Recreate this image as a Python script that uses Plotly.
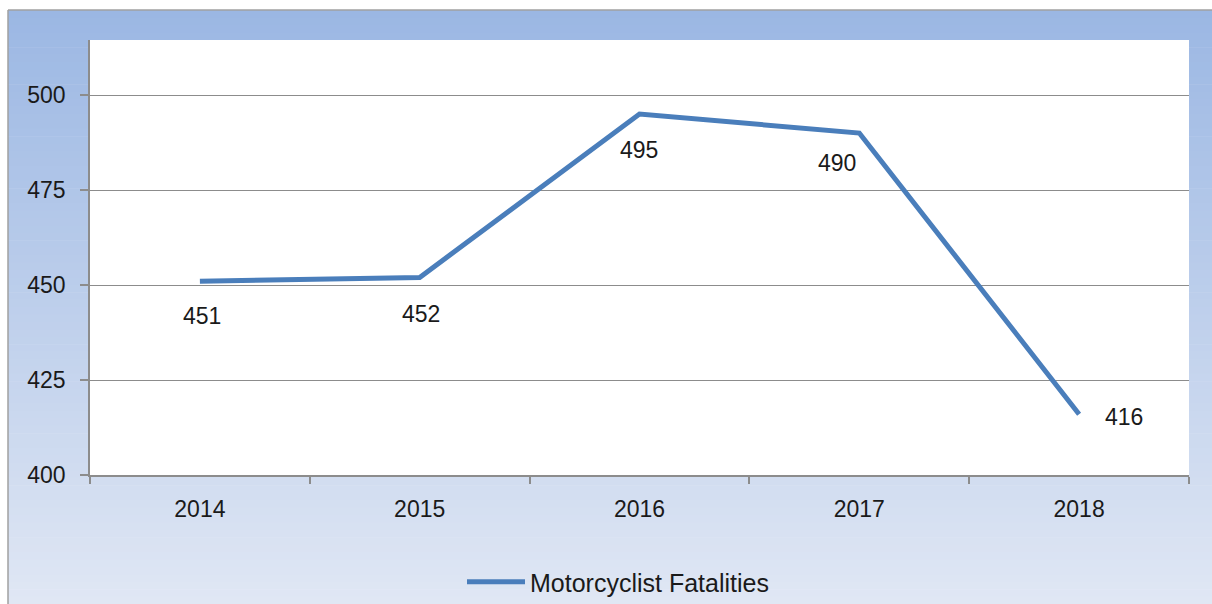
import plotly.graph_objects as go

years = ["2014", "2015", "2016", "2017", "2018"]
fatalities = [451, 452, 495, 490, 416]
series_name = "Motorcyclist Fatalities"
y_ticks = [400, 425, 450, 475, 500]

# label offsets in px (xshift, yshift)
label_offsets = [(2, -35), (1, -37), (-1, -36), (-22, -30), (45, -3)]

W, H = 1212, 604
L, R, T, B = 90, 23, 40, 129
pw, ph = W - L - R, H - T - B

def px_x(px):
    return (px - L) / pw

def px_y(py):
    return (H - B - py) / ph

FONT = "Liberation Sans"
TXT = "#1a1a1a"

fig = go.Figure()
fig.add_trace(go.Scatter(
    x=years, y=fatalities, mode="lines", name=series_name,
    line=dict(color="#4A7EBB", width=5), showlegend=True,
))

shapes = []
top_c = (155, 183, 227)
bot_c = (224, 231, 244)
y0p, y1p = 10, 604
n = 80
for i in range(n):
    a = y0p + (y1p - y0p) * i / n
    b = y0p + (y1p - y0p) * (i + 1) / n
    t = (i + 0.5) / n
    c = tuple(round(top_c[k] + (bot_c[k] - top_c[k]) * t) for k in range(3))
    shapes.append(dict(type="rect", xref="paper", yref="paper",
                       x0=px_x(8), x1=px_x(W + 2), y0=px_y(a), y1=px_y(b + 0.6),
                       fillcolor="rgb(%d,%d,%d)" % c, line=dict(width=0), layer="below"))
shapes.append(dict(type="rect", xref="paper", yref="paper", x0=0, x1=1, y0=0, y1=1,
                   fillcolor="white", line=dict(width=0), layer="below"))
shapes.append(dict(type="line", xref="paper", yref="paper", x0=px_x(8), x1=px_x(W + 2),
                   y0=px_y(10), y1=px_y(10), line=dict(color="#A0A0A0", width=1.5), layer="below"))
shapes.append(dict(type="line", xref="paper", yref="paper", x0=px_x(8), x1=px_x(8),
                   y0=px_y(10), y1=px_y(H + 2), line=dict(color="#A0A0A0", width=1.5), layer="below"))

annotations = []
for i, (v, (dx, dy)) in enumerate(zip(fatalities, label_offsets)):
    annotations.append(dict(x=i, y=v, xref="x", yref="y", text=str(v), showarrow=False,
                            xshift=dx, yshift=dy, font=dict(family=FONT, size=23, color=TXT)))

fig.update_layout(
    width=W, height=H,
    margin=dict(l=L, r=R, t=T, b=B, pad=0, autoexpand=False),
    paper_bgcolor="white", plot_bgcolor="white",
    shapes=shapes, annotations=annotations,
    font=dict(family=FONT, size=23, color=TXT),
    showlegend=True,
    legend=dict(orientation="h", x=px_x(618), y=px_y(582), xanchor="center", yanchor="middle",
                bgcolor="rgba(0,0,0,0)", font=dict(family=FONT, size=25, color=TXT),
                itemwidth=58),
    xaxis=dict(type="category", range=[-0.5, 4.5], showgrid=False, showline=True,
               linecolor="#8C8C8C", linewidth=1.5, ticks="outside", ticklen=7,
               tickcolor="#8C8C8C", tickwidth=1.5, tickson="boundaries",
               tickfont=dict(family=FONT, size=23, color=TXT), ticklabelstandoff=13,
               zeroline=False, fixedrange=True, automargin=False),
    yaxis=dict(range=[400, 514.5], tickvals=y_ticks, showgrid=True, gridcolor="#8C8C8C",
               gridwidth=1.2, showline=True, linecolor="#8C8C8C", linewidth=1.5,
               ticks="outside", ticklen=8, tickcolor="#8C8C8C", tickwidth=1.5,
               tickfont=dict(family=FONT, size=23, color=TXT), ticklabelstandoff=10,
               zeroline=False, fixedrange=True, automargin=False),
)

fig.write_html("out.html", config={"displayModeBar": False},
               post_script="document.body.style.margin='0';")
